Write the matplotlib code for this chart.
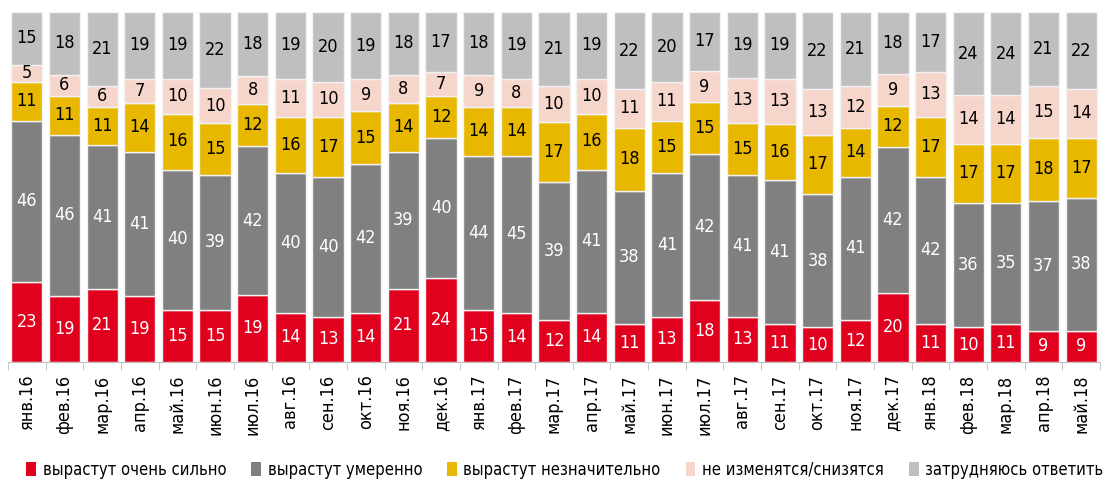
import matplotlib
matplotlib.use("Agg")
import matplotlib.pyplot as plt
import numpy as np
from matplotlib.patches import Patch

plt.rcParams['font.family'] = ['DejaVu Sans']
plt.rcParams['font.stretch'] = 'condensed'

months = ['янв.16', 'фев.16', 'мар.16', 'апр.16', 'май.16', 'июн.16', 'июл.16',
          'авг.16', 'сен.16', 'окт.16', 'ноя.16', 'дек.16',
          'янв.17', 'фев.17', 'мар.17', 'апр.17', 'май.17', 'июн.17', 'июл.17',
          'авг.17', 'сен.17', 'окт.17', 'ноя.17', 'дек.17',
          'янв.18', 'фев.18', 'мар.18', 'апр.18', 'май.18']

very_strong = [23, 19, 21, 19, 15, 15, 19, 14, 13, 14, 21, 24, 15, 14, 12, 14, 11, 13, 18,
               13, 11, 10, 12, 20, 11, 10, 11, 9, 9]
moderate = [46, 46, 41, 41, 40, 39, 42, 40, 40, 42, 39, 40, 44, 45, 39, 41, 38, 41, 42,
            41, 41, 38, 41, 42, 42, 36, 35, 37, 38]
slight = [11, 11, 11, 14, 16, 15, 12, 16, 17, 15, 14, 12, 14, 14, 17, 16, 18, 15, 15,
          15, 16, 17, 14, 12, 17, 17, 17, 18, 17]
no_change = [5, 6, 6, 7, 10, 10, 8, 11, 10, 9, 8, 7, 9, 8, 10, 10, 11, 11, 9,
             13, 13, 13, 12, 9, 13, 14, 14, 15, 14]
hard_to_say = [15, 18, 21, 19, 19, 22, 18, 19, 20, 19, 18, 17, 18, 19, 21, 19, 22, 20, 17,
               19, 19, 22, 21, 18, 17, 24, 24, 21, 22]

series = [
    ('вырастут очень сильно', very_strong, '#E1001E', 'white'),
    ('вырастут умеренно', moderate, '#808080', 'white'),
    ('вырастут незначительно', slight, '#E8B800', 'black'),
    ('не изменятся/снизятся', no_change, '#F6D5CA', 'black'),
    ('затрудняюсь ответить', hard_to_say, '#BFBFBF', 'black'),
]

fig = plt.figure(figsize=(11.05, 4.83), dpi=100)
ax = fig.add_axes([8 / 1105, 121 / 483, 1092 / 1105, 350 / 483])

# bars are shown as 100% stacks (rounded values don't always add up to 100)
totals = np.sum([s[1] for s in series], axis=0)
x = np.arange(len(months))
bottom = np.zeros(len(months))
for name, vals, color, tcolor in series:
    vals = np.array(vals, dtype=float)
    h = vals / totals * 100
    ax.bar(x, h, 0.83, bottom=bottom, color=color, edgecolor='#F2F2F2',
           linewidth=1, label=name)
    for xi, b, hv, v in zip(x, bottom, h, vals):
        ax.text(xi, b + hv / 2, f'{int(v)}', ha='center', va='center',
                fontsize=13, color=tcolor)
    bottom += h

ax.set_xlim(-0.5, len(months) - 0.5)
ax.set_ylim(0, 100)
ax.set_yticks([])
for s in ['top', 'right', 'left']:
    ax.spines[s].set_visible(False)
ax.spines['bottom'].set_color('#BFBFBF')

ax.set_xticks(x)
ax.set_xticklabels(months, rotation=90, fontsize=13)
ax.tick_params(axis='x', which='major', length=0, pad=9)
ax.set_xticks(np.arange(len(months) + 1) - 0.5, minor=True)
ax.tick_params(axis='x', which='minor', length=6, color='#BFBFBF')

handles = [Patch(facecolor=c, edgecolor='none') for _, _, c, _ in series]
labels = [n for n, _, _, _ in series]
fig.legend(handles, labels, loc='center', bbox_to_anchor=(0.511, 13 / 483), ncol=5,
           frameon=False, fontsize=11.9, handlelength=0.6, handleheight=0.9,
           handletextpad=0.4, columnspacing=1.5)

fig.savefig('out.png', dpi=100)
